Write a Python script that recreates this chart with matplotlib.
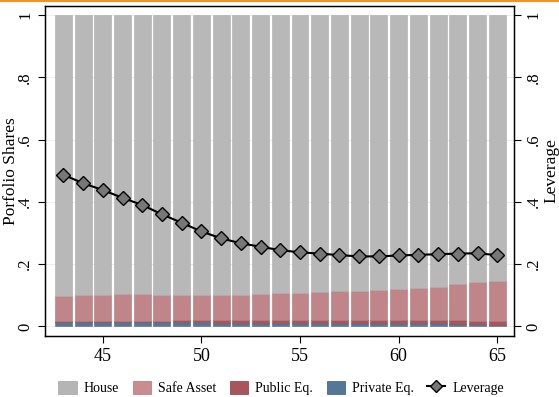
import numpy as np
import matplotlib.pyplot as plt
from matplotlib.lines import Line2D
from matplotlib.patches import Patch

plt.rcParams['font.family'] = ['Liberation Serif', 'DejaVu Serif']

# ----------------------------------------------------------------------
# 数据：各年龄的资产组合份额与杠杆
# ----------------------------------------------------------------------
age = np.arange(43, 66)

private_eq = [0.013, 0.013, 0.013, 0.013, 0.013, 0.013, 0.013, 0.013,
              0.012, 0.012, 0.012, 0.012, 0.012, 0.012, 0.012, 0.012,
              0.011, 0.011, 0.010, 0.010, 0.008, 0.007, 0.006]
public_eq = [0.003, 0.004, 0.004, 0.005, 0.006, 0.006, 0.007, 0.008,
             0.009, 0.010, 0.010, 0.010, 0.010, 0.010, 0.010, 0.010,
             0.010, 0.011, 0.011, 0.011, 0.012, 0.012, 0.012]
# 安全资产顶端（含股权部分）
safe_top = [0.099, 0.102, 0.102, 0.103, 0.105, 0.102, 0.101, 0.100,
            0.100, 0.101, 0.104, 0.106, 0.106, 0.110, 0.113, 0.115,
            0.117, 0.120, 0.123, 0.128, 0.136, 0.143, 0.146]
leverage = [0.487, 0.460, 0.438, 0.413, 0.390, 0.360, 0.333, 0.305,
            0.283, 0.267, 0.256, 0.245, 0.238, 0.234, 0.229, 0.225,
            0.225, 0.228, 0.230, 0.232, 0.234, 0.235, 0.229]

private_eq = np.array(private_eq)
public_eq = np.array(public_eq)
safe = np.array(safe_top) - private_eq - public_eq
house = 1 - np.array(safe_top)

c_house = '#b8b8b8'
c_safe = '#c08589'
c_public = '#a8555b'
c_private = '#557797'

fig = plt.figure(figsize=(5.59, 3.97), dpi=100)
ax = fig.add_axes([0.0805, 0.1537, 0.839, 0.8313])

yt = [0, 0.2, 0.4, 0.6, 0.8, 1.0]
ylab = ['0', '.2', '.4', '.6', '.8', '1']
for v in yt:
    ax.axhline(v, color='#e8f0f0', lw=0.8, zorder=0)

w = 0.86
ax.bar(age, private_eq, w, color=c_private, edgecolor='#4a6a88', lw=0.4, zorder=2)
ax.bar(age, public_eq, w, bottom=private_eq, color=c_public,
       edgecolor='#9a4a50', lw=0.4, zorder=2)
ax.bar(age, safe, w, bottom=private_eq + public_eq, color=c_safe,
       edgecolor='#b07478', lw=0.4, zorder=2)
ax.bar(age, house, w, bottom=safe_top, color=c_house,
       edgecolor='#ababab', lw=0.4, zorder=2)

ax.plot(age, leverage, color='black', lw=1.5, marker='D', markersize=7.5,
        markerfacecolor='#777777', markeredgecolor='black', markeredgewidth=1.0,
        zorder=3)

ax.set_xlim(42.07, 65.85)
ax.set_ylim(-0.0305, 1.029)
ax.set_xticks([45, 50, 55, 60, 65])
ax.tick_params(axis='x', labelsize=13, length=5, width=0.8)
ax.set_yticks(yt)
ax.set_yticklabels(ylab, rotation=90, va='center')
ax.tick_params(axis='y', labelsize=12, length=5, width=0.8)
ax.set_ylabel('Porfolio Shares', fontsize=12.5, labelpad=-1)
for s in ax.spines.values():
    s.set_linewidth(1.0)

# 右侧杠杆轴
ax2 = ax.twinx()
ax2.set_ylim(ax.get_ylim())
ax2.set_yticks(yt)
ax2.set_yticklabels(ylab, rotation=90, va='center')
ax2.tick_params(axis='y', labelsize=12, length=5, width=0.8)
ax2.set_ylabel('Leverage', fontsize=12.5, rotation=90, labelpad=1)

handles = [Patch(facecolor='#b5b5b5', edgecolor='#a5a5a5', lw=0.5),
           Patch(facecolor='#c98d91', edgecolor='#b07478', lw=0.5),
           Patch(facecolor=c_public, edgecolor='#8a3a40', lw=0.5),
           Patch(facecolor=c_private, edgecolor='#3a5a78', lw=0.5),
           Line2D([], [], color='black', lw=1.5, marker='D', markersize=6,
                  markerfacecolor='#777777', markeredgecolor='black')]
labels = ['House', 'Safe Asset', 'Public Eq.', 'Private Eq.', 'Leverage']
fig.legend(handles, labels, loc='center', bbox_to_anchor=(0.503, 0.023), ncol=5,
           frameon=False, fontsize=10, handlelength=1.3, handleheight=1.1,
           columnspacing=1.0, handletextpad=0.5)

fig.add_artist(Line2D([0, 1], [0.998, 0.998], color='#f0932a', lw=1.5,
                      transform=fig.transFigure))

fig.savefig('out.png', dpi=100)
